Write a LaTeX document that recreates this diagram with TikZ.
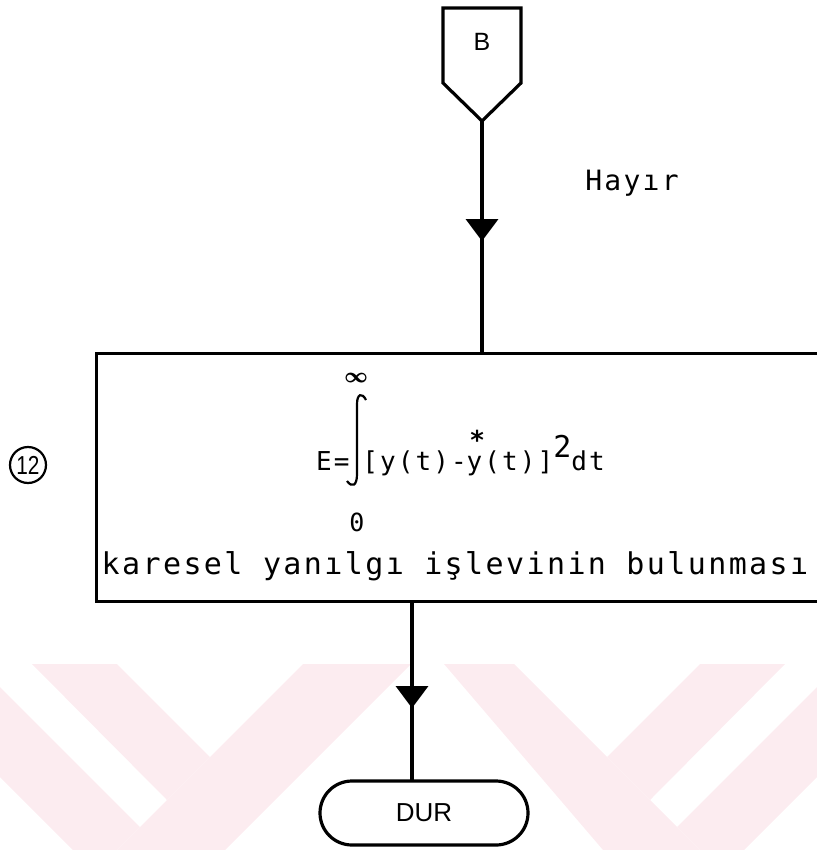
\documentclass[tikz,border=0pt]{standalone}
\usepackage{fontspec}
\newfontfamily\dotfont[LetterSpace=8]{DejaVu Sans Mono}
\newfontfamily\labelfont{Liberation Sans}
\newfontfamily\numfont[FakeStretch=0.8]{Liberation Sans}
\usetikzlibrary{arrows.meta,decorations.markings,positioning}

\definecolor{wmpink}{RGB}{252,236,240}

\tikzset{
  flow/.style={line width=1.6pt},
  midarrow/.style={postaction={decorate},
    decoration={markings,mark=at position #1 with {\arrow{Triangle[width=16pt,length=11pt]}}}},
  printtext/.style={inner sep=0pt,font=\dotfont\fontsize{#1}{#1}\selectfont},
  wmark/.style={fill=wmpink,draw=none}
}

\begin{document}
\begin{tikzpicture}[x=0.5pt,y=-0.5pt]
    \useasboundingbox (0,0) rectangle (817,850);
    \clip (0,0) rectangle (817,850);

    % faint watermark chevrons at the bottom
    \fill[wmark] (0,687) -- (140,827) -- (95,872) -- (0,777) -- cycle;
    \fill[wmark] (32,664) -- (117,664) -- (210,757) -- (167,800) -- cycle;
    \fill[wmark] (303,664) -- (411,664) -- (149,926) -- (95,872) -- cycle;
    \fill[wmark] (817,687) -- (677,827) -- (722,872) -- (817,777) -- cycle;
    \fill[wmark] (785,664) -- (700,664) -- (607,757) -- (650,800) -- cycle;
    \fill[wmark] (514,664) -- (444,664) -- (668,926) -- (722,872) -- cycle;

    % off-page connector
    \draw[flow] (443,8) -- (521,8) -- (521,83) -- (482,121) -- (443,83) -- cycle;
    \coordinate (conBtip) at (482,121);
    \node[inner sep=0pt,font=\labelfont\fontsize{12.5}{12.5}\selectfont] (conB) at (482,42) {B};

    \node[printtext=14] (hayir) at (632,183) {Hayır};

    % process box, runs past the right edge
    \node[draw,flow,anchor=north west,minimum width=402pt,minimum height=124pt] (calc) at (95,352) {};
    \node[draw,circle,line width=1.1pt,inner sep=0pt,minimum size=18pt,
          font=\numfont\fontsize{13}{13}\selectfont] (stepno) at (28,465) {12};

    % error integral
    \node[printtext=15,font=\bfseries] (infty) at (356,378) {∞};
    \node[printtext=13,anchor=base east] (lhs) at (350,470) {E=};
    \draw[line width=1.1pt] (366,400) .. controls (362,392) and (357,394) .. (357,404)
        -- (357,474) .. controls (357,486) and (352,488) .. (347,481);
    \node[printtext=13,anchor=base west] (rhs) at (362,470)
        {[y(t)-\rlap{\raisebox{0.78em}{\hspace{0.1em}\textbf{*}}}y(t)]\raisebox{0.5em}{\fontsize{15}{15}\selectfont 2}dt};
    \node[printtext=12.5] (lowlim) at (357,522) {0};
    \node[printtext=15] (caption) at (455,566) {karesel yanılgı işlevinin bulunması};

    % terminal
    \node[draw,flow,rounded corners=16pt,minimum width=104pt,minimum height=32pt,
          font=\labelfont\fontsize{13}{13}\selectfont] (dur) at (424,813) {DUR};
    \coordinate (durin) at (412,781);

    \draw[flow,midarrow=0.52] (conBtip) -- (conBtip |- calc.north);
    \draw[flow,midarrow=0.59] (calc.south -| durin) -- (durin);
\end{tikzpicture}
\end{document}
